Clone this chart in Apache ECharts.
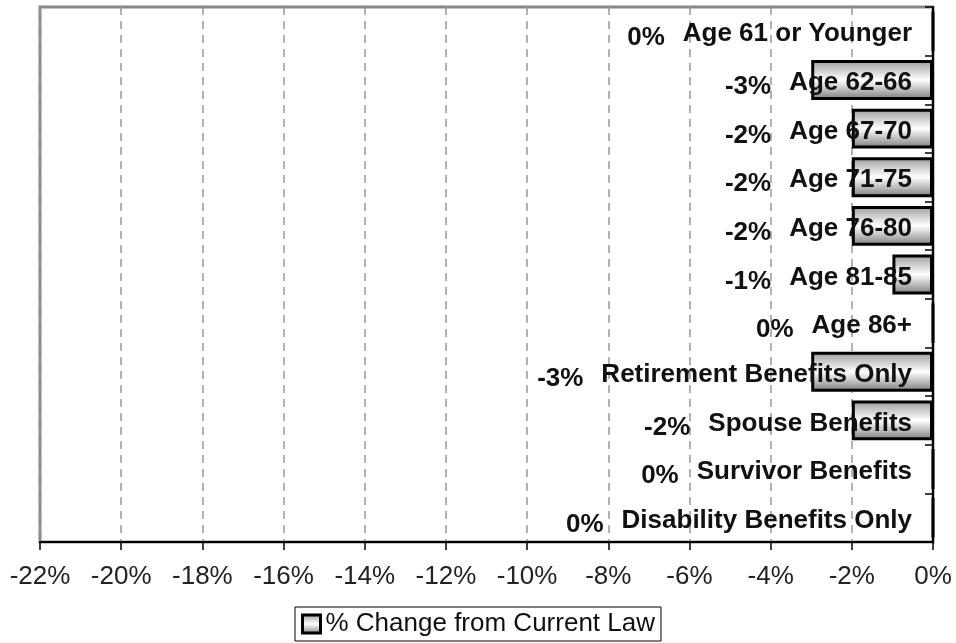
<!DOCTYPE html>
<html>
<head>
<meta charset="utf-8">
<script src="https://cdn.jsdelivr.net/npm/echarts@6/dist/echarts.min.js"></script>
<style>
  html, body { margin: 0; padding: 0; background: #fff; }
  #chart { width: 956px; height: 643px; }
</style>
</head>
<body>
<div id="chart"></div>
<script>
var myChart = echarts.init(document.getElementById('chart'));

// categories, top to bottom
var categories = [
  'Age 61 or Younger', 'Age 62-66', 'Age 67-70', 'Age 71-75', 'Age 76-80',
  'Age 81-85', 'Age 86+', 'Retirement Benefits Only', 'Spouse Benefits',
  'Survivor Benefits', 'Disability Benefits Only'
];
// % change from current law
var values = [0, -3, -2, -2, -2, -1, 0, -3, -2, 0, 0];
var seriesName = '% Change from Current Law';

var font = 'Liberation Sans, Arial, sans-serif';
var barFill = new echarts.graphic.LinearGradient(0, 0, 0, 1, [
  { offset: 0, color: '#9a9a9a' },
  { offset: 0.5, color: '#ffffff' },
  { offset: 1, color: '#7a7a7a' }
]);

option = {
    animation: false,
    grid: {
        left: 40,
        right: 23,
        top: 7,
        bottom: 101,
        show: true,
        borderColor: '#888',
        borderWidth: 3
    },
    legend: {
        left: 295,
        top: 607,
        padding: [4, 6, 4, 6],
        borderColor: '#000',
        borderWidth: 1,
        borderRadius: 0,
        itemWidth: 18,
        itemHeight: 18,
        itemGap: 6,
        icon: 'rect',
        itemStyle: { borderColor: '#000', borderWidth: 3 },
        textStyle: { fontFamily: font, fontSize: 26, color: '#111' },
        data: [seriesName]
    },
    xAxis: {
        type: 'value',
        min: -22,
        max: 0,
        interval: 2,
        axisLine: { show: true, lineStyle: { color: '#000', width: 2 } },
        axisTick: { show: true, length: 8, lineStyle: { color: '#000', width: 1.5 } },
        axisLabel: {
            formatter: '{value}%',
            fontFamily: font,
            fontSize: 26,
            color: '#222',
            margin: 22
        },
        splitLine: { show: true, lineStyle: { color: '#999', type: [8, 6], width: 1.5 } }
    },
    yAxis: {
        type: 'category',
        inverse: true,
        position: 'right',
        data: categories,
        z: 5,
        axisLine: { show: true, lineStyle: { color: '#000', width: 2 } },
        axisTick: { show: true, inside: true, length: 8, lineStyle: { color: '#000', width: 1.5 } },
        axisLabel: {
            inside: true,
            margin: 21,
            padding: [6, 0, 0, 0],
            formatter: function (value, index) {
                return '{v|' + values[index] + '%}{g|}{c|' + value + '}';
            },
            rich: {
                v: { fontFamily: font, fontSize: 26, fontWeight: 'bold', color: '#111', padding: [8, 0, 0, 0] },
                g: { width: 18 },
                c: { fontFamily: font, fontSize: 26, fontWeight: 'bold', color: '#111' }
            }
        }
    },
    series: [
        {
            name: seriesName,
            type: 'bar',
            data: values,
            barCategoryGap: '18%',
            itemStyle: {
                color: barFill,
                borderColor: '#000',
                borderWidth: 3
            }
        }
    ]
};

myChart.setOption(option);
</script>
</body>
</html>
